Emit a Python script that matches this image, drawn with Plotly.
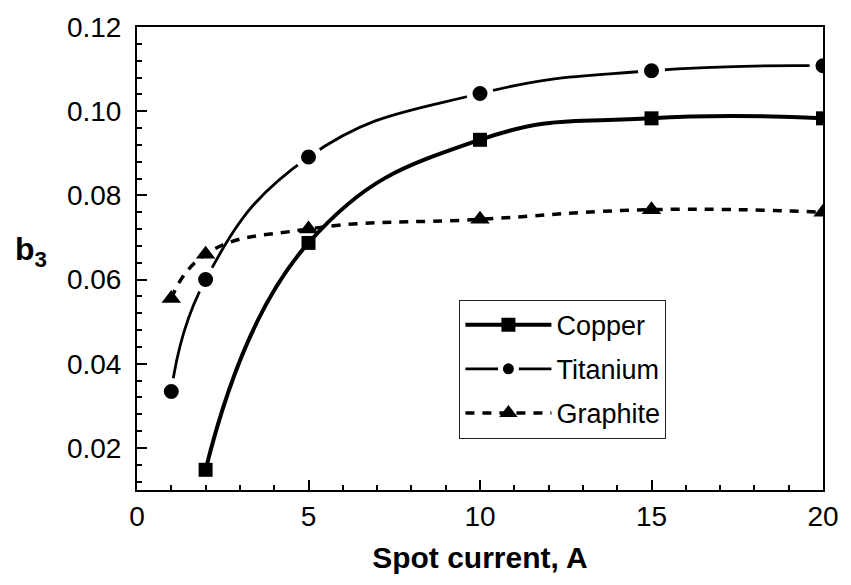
import plotly.graph_objects as go

# Data
copper_x = [2, 5, 10, 15, 20]
copper_y = [0.0148, 0.0687, 0.0932, 0.0983, 0.0983]

titanium_x = [1, 2, 5, 10, 15, 20]
titanium_y = [0.0334, 0.0600, 0.0891, 0.1042, 0.1096, 0.1108]

graphite_x = [1, 2, 5, 10, 15, 20]
graphite_y = [0.0555, 0.0660, 0.0720, 0.0743, 0.0766, 0.0760]

x_ticks = [0, 5, 10, 15, 20]
y_ticks = [0.02, 0.04, 0.06, 0.08, 0.10, 0.12]
y_ticktext = ["0.02", "0.04", "0.06", "0.08", "0.10", "0.12"]
y_minor = [0.012, 0.016, 0.024, 0.028, 0.032, 0.036, 0.044, 0.048, 0.052, 0.056,
           0.064, 0.068, 0.072, 0.076, 0.084, 0.088, 0.092, 0.096,
           0.104, 0.108, 0.112, 0.116]

FONT = "Liberation Sans, Arial, sans-serif"

fig = go.Figure()

fig.add_trace(go.Scatter(
    x=copper_x, y=copper_y, name="Copper", mode="lines+markers",
    line=dict(color="black", width=4, shape="spline", smoothing=1.3),
    marker=dict(symbol="square", size=14, color="black"),
    legendgroup="a",
))
fig.add_trace(go.Scatter(
    x=titanium_x, y=titanium_y, name="Titanium", mode="lines+markers",
    line=dict(color="black", width=2.8, shape="spline", smoothing=1.3),
    marker=dict(symbol="circle", size=21, color="black",
                line=dict(color="white", width=6)),
    legendgroup="b",
))
fig.add_trace(go.Scatter(
    x=graphite_x, y=graphite_y, name="Graphite", mode="lines+markers",
    line=dict(color="black", width=3.5, shape="spline", smoothing=1.3, dash="9px,8px"),
    marker=dict(symbol="triangle-up", size=17, color="black"),
    legendgroup="c",
))

axis_common = dict(
    showline=True, linecolor="black", linewidth=2, mirror=True,
    ticks="inside", tickcolor="black", tickwidth=2, ticklen=10,
    showgrid=False, zeroline=False,
    tickfont=dict(family=FONT, size=28, color="black"),
)

fig.update_xaxes(
    range=[0, 20], tickmode="array", tickvals=x_ticks,
    minor=dict(ticks="inside", tickmode="linear", tick0=0, dtick=1, ticklen=5,
               tickwidth=2, tickcolor="black", showgrid=False),
    title=dict(text="<b>Spot current, A</b>", font=dict(family=FONT, size=30, color="black"), standoff=16),
    ticklabelstandoff=0,
    **axis_common,
)
fig.update_yaxes(
    range=[0.01, 0.12], tickmode="array", tickvals=y_ticks, ticktext=y_ticktext,
    minor=dict(ticks="inside", tickmode="array", tickvals=y_minor, ticklen=5,
               tickwidth=2, tickcolor="black", showgrid=False),
    ticklabelstandoff=8,
    **axis_common,
)

fig.add_annotation(
    xref="paper", yref="paper", x=-0.155, y=0.515, xanchor="center", yanchor="middle",
    text="<b>b<sub>3</sub></b>", showarrow=False,
    font=dict(family=FONT, size=32, color="black"),
)

fig.update_layout(
    width=851, height=585,
    margin=dict(l=137, r=23, t=25, b=95),
    plot_bgcolor="white", paper_bgcolor="white",
    showlegend=True,
    legend=dict(
        x=0.47, y=0.411, xanchor="left", yanchor="top",
        font=dict(family=FONT, size=27, color="black"),
        bordercolor="#222", borderwidth=1, bgcolor="white",
        tracegroupgap=6, itemwidth=86,
        entrywidth=210, entrywidthmode="pixels",
    ),
)

fig.write_html("out.html")
